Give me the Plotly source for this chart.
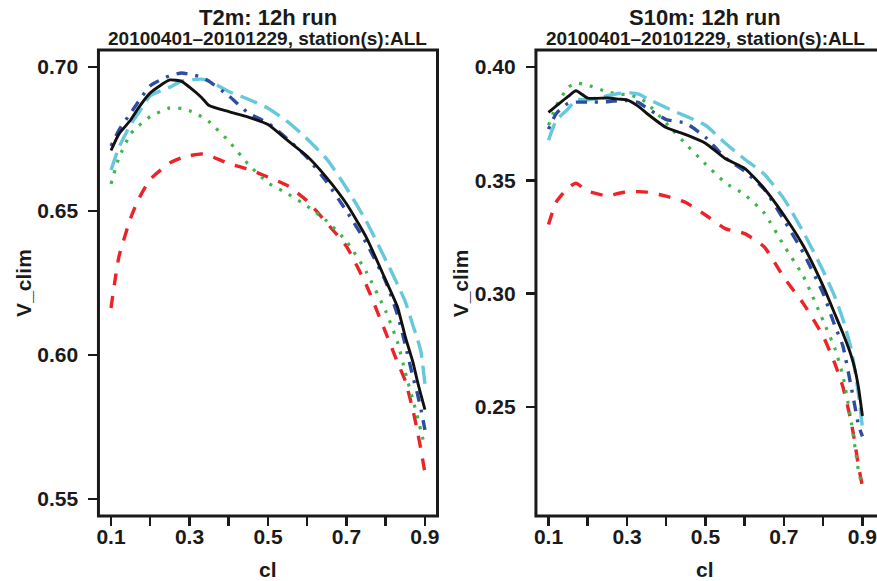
import plotly.graph_objects as go

# ---------------- data ----------------
cl = [0.10, 0.12, 0.15, 0.17, 0.20, 0.25, 0.28, 0.30, 0.33, 0.35, 0.40, 0.45, 0.50,
      0.55, 0.60, 0.65, 0.70, 0.75, 0.80, 0.83, 0.85, 0.87, 0.88, 0.89, 0.90]

# T2m panel
t2m_black = [0.6710, 0.6767, 0.6816, 0.6858, 0.6910, 0.6955, 0.6950, 0.6930, 0.6895, 0.6866, 0.6845, 0.6826, 0.6800,
             0.6745, 0.6690, 0.6615, 0.6525, 0.6410, 0.6260, 0.6167, 0.6063, 0.5972, 0.5913, 0.5861, 0.5810]
t2m_blue = [0.6726, 0.6780, 0.6840, 0.6880, 0.6935, 0.6970, 0.6979, 0.6975, 0.6965, 0.6950, 0.6900, 0.6840, 0.6805,
            0.6750, 0.6685, 0.6600, 0.6500, 0.6390, 0.6255, 0.6140, 0.6035, 0.5920, 0.5870, 0.5810, 0.5740]
t2m_cyan = [0.6642, 0.6720, 0.6800, 0.6840, 0.6900, 0.6930, 0.6951, 0.6955, 0.6958, 0.6952, 0.6915, 0.6888, 0.6857,
            0.6810, 0.6750, 0.6680, 0.6580, 0.6466, 0.6330, 0.6246, 0.6185, 0.6100, 0.6060, 0.6010, 0.5900]
t2m_green = [0.6594, 0.6684, 0.6768, 0.6795, 0.6828, 0.6858, 0.6856, 0.6848, 0.6828, 0.6810, 0.6743, 0.6662, 0.6598,
             0.6560, 0.6517, 0.6465, 0.6395, 0.6290, 0.6152, 0.6045, 0.5940, 0.5840, 0.5790, 0.5735, 0.5680]
t2m_red = [0.6163, 0.6340, 0.6475, 0.6540, 0.6610, 0.6667, 0.6685, 0.6692, 0.6698, 0.6692, 0.6665, 0.6645, 0.6618,
           0.6588, 0.6535, 0.6458, 0.6377, 0.6245, 0.6078, 0.5975, 0.5910, 0.5805, 0.5740, 0.5670, 0.5590]

# S10m panel
s10m_black = [0.3800, 0.3828, 0.3870, 0.3895, 0.3863, 0.3863, 0.3858, 0.3855, 0.3825, 0.3796, 0.3733, 0.3702, 0.3664,
              0.3596, 0.3553, 0.3463, 0.3346, 0.3209, 0.3033, 0.2909, 0.2826, 0.2733, 0.2673, 0.2585, 0.2460]
s10m_blue = [0.3726, 0.3795, 0.3840, 0.3845, 0.3845, 0.3847, 0.3852, 0.3852, 0.3843, 0.3820, 0.3768, 0.3752, 0.3690,
             0.3600, 0.3540, 0.3460, 0.3325, 0.3178, 0.3000, 0.2857, 0.2770, 0.2600, 0.2510, 0.2420, 0.2370]
s10m_cyan = [0.3677, 0.3765, 0.3815, 0.3855, 0.3855, 0.3873, 0.3883, 0.3888, 0.3880, 0.3862, 0.3820, 0.3783, 0.3743,
             0.3665, 0.3593, 0.3527, 0.3418, 0.3270, 0.3100, 0.2985, 0.2888, 0.2765, 0.2670, 0.2556, 0.2410]
s10m_green = [0.3743, 0.3830, 0.3910, 0.3929, 0.3920, 0.3890, 0.3880, 0.3878, 0.3865, 0.3842, 0.3752, 0.3660, 0.3572,
              0.3490, 0.3437, 0.3355, 0.3212, 0.3075, 0.2880, 0.2757, 0.2640, 0.2451, 0.2336, 0.2217, 0.2150]
s10m_red = [0.3305, 0.3405, 0.3467, 0.3487, 0.3452, 0.3431, 0.3443, 0.3450, 0.3450, 0.3448, 0.3430, 0.3402, 0.3347,
            0.3287, 0.3265, 0.3206, 0.3071, 0.2955, 0.2812, 0.2690, 0.2590, 0.2445, 0.2350, 0.2239, 0.2150]

x_tickvals = [0.1, 0.2, 0.3, 0.4, 0.5, 0.6, 0.7, 0.8, 0.9]
x_ticktext = ["0.1", "", "0.3", "", "0.5", "", "0.7", "", "0.9"]
t2m_yticks = [0.55, 0.60, 0.65, 0.70]
t2m_yticktext = ["0.55", "0.60", "0.65", "0.70"]
s10m_yticks = [0.25, 0.30, 0.35, 0.40]
s10m_yticktext = ["0.25", "0.30", "0.35", "0.40"]

titles = ["T2m: 12h run", "S10m: 12h run"]
subtitle = "20100401\u201320101229, station(s):ALL"

# ---------------- styles ----------------
styles = [  # (name, colour, dash, width)
    ("red", "#EC2329", "12px,11px", 3.4),
    ("green", "#3FB54A", "3px,8px", 3.2),
    ("cyan", "#66C8DC", "18px,8px", 3.4),
    ("blue", "#2F4DA0", "3px,8px,11px,8px", 3.4),
    ("black", "#111111", "solid", 2.9),
]

W, H = 877, 581
FONT = "Liberation Sans, Arial, sans-serif"

fig = go.Figure()

panels = [
    (dict(red=t2m_red, green=t2m_green, cyan=t2m_cyan, blue=t2m_blue, black=t2m_black), "x", "y"),
    (dict(red=s10m_red, green=s10m_green, cyan=s10m_cyan, blue=s10m_blue, black=s10m_black), "x2", "y2"),
]
for series, xa, ya in panels:
    for name, col, dash, w in styles:
        fig.add_trace(go.Scatter(
            x=cl, y=series[name], mode="lines", xaxis=xa, yaxis=ya,
            line=dict(color=col, dash=dash, width=w, shape="spline", smoothing=0.5),
            showlegend=False, hoverinfo="skip"))

# pixel geometry
top, bottom = 50, 516
L1, R1 = 97, 438
L2, R2 = 537, 877
ydom = [1 - bottom / H, 1 - top / H]

tickfont = dict(family=FONT, size=21, color="#1a1a1a", weight="bold")
common_x = dict(tickmode="array", tickvals=x_tickvals, ticktext=x_ticktext, ticks="outside",
                ticklen=9, tickwidth=2.5, tickcolor="#1a1a1a", showgrid=False, zeroline=False,
                showline=False, tickfont=tickfont, ticklabelstandoff=-7, ticklabeloverflow="allow")
common_y = dict(tickmode="array", ticks="outside", ticklen=9, tickwidth=2.5, tickcolor="#1a1a1a",
                showgrid=False, zeroline=False, showline=False, tickfont=tickfont, ticklabelstandoff=6,
                ticklabeloverflow="allow")

fig.update_layout(
    width=W, height=H, margin=dict(l=0, r=0, t=0, b=0),
    paper_bgcolor="white", plot_bgcolor="white",
    xaxis=dict(domain=[L1 / W, R1 / W], range=[0.068, 0.932], anchor="y", **common_x),
    yaxis=dict(domain=ydom, range=[0.5441, 0.7059], anchor="x", tickvals=t2m_yticks,
               ticktext=t2m_yticktext, **common_y),
    xaxis2=dict(domain=[L2 / W, 1.0], range=[0.068, 0.068 + (R2 - L2) / 341 * 0.864], anchor="y2", **common_x),
    yaxis2=dict(domain=ydom, range=[0.2019, 0.4075], anchor="x2", tickvals=s10m_yticks,
                ticktext=s10m_yticktext, **common_y),
)

# boxes
box_line = dict(color="#1a1a1a", width=3)
fig.add_shape(type="rect", xref="x domain", yref="y domain", x0=0, x1=1, y0=0, y1=1, line=box_line)
fig.add_shape(type="rect", xref="x2 domain", yref="y2 domain", x0=0, x1=1.02, y0=0, y1=1, line=box_line)

# titles
centers = [(L1 + R1) / 2, (L2 + 878) / 2]
for cx, t in zip(centers, titles):
    fig.add_annotation(text=t, x=cx / W, y=1 - 18 / H, xref="paper", yref="paper",
                       showarrow=False, xanchor="center", yanchor="middle",
                       font=dict(family=FONT, size=22, color="#1a1a1a", weight="bold"))
    fig.add_annotation(text=subtitle, x=cx / W, y=1 - 39 / H, xref="paper", yref="paper",
                       showarrow=False, xanchor="center", yanchor="middle",
                       font=dict(family=FONT, size=19, color="#1a1a1a", weight="bold"))
    fig.add_annotation(text="cl", x=cx / W, y=1 - 569 / H, xref="paper", yref="paper",
                       showarrow=False, xanchor="center", yanchor="middle",
                       font=dict(family=FONT, size=21, color="#1a1a1a", weight="bold"))

for vx in [21, 461]:
    fig.add_annotation(text="V_clim", x=vx / W, y=1 - 283 / H, xref="paper", yref="paper",
                       showarrow=False, xanchor="center", yanchor="middle", textangle=-90,
                       font=dict(family=FONT, size=21, color="#1a1a1a", weight="bold"))

fig.write_html("out.html", config={"displayModeBar": False, "staticPlot": True},
               post_script="document.body.style.margin='0px';document.body.style.overflow='hidden';")
